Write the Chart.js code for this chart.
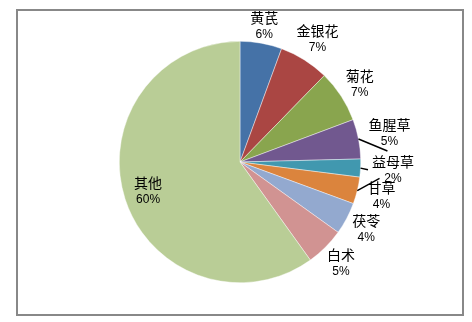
<!DOCTYPE html>
<html>
<head>
<meta charset="utf-8">
<script src="https://cdn.jsdelivr.net/npm/chart.js@4"></script>
<style>
  html, body { margin: 0; padding: 0; background: #fff; }
  canvas { display: block; }
</style>
</head>
<body>
<canvas id="pieChart" width="472" height="322"></canvas>
<script>
const categories = ['黄芪', '金银花', '菊花', '鱼腥草', '益母草', '甘草', '茯苓', '白术', '其他'];
const shares = [5.6, 6.7, 7.0, 5.3, 2.4, 3.6, 4.3, 5.2, 59.9];
const sliceColors = ['#4572A7', '#AA4643', '#89A54E', '#71588F', '#4198AF', '#DB843D', '#93A9CF', '#D19392', '#B9CD96'];

const total = shares.reduce((a, b) => a + b, 0);
const percentText = shares.map(v => Math.round(v / total * 100) + '%');

// frame around the whole chart, like the office chart border
const framePlugin = {
  id: 'frame',
  beforeDraw(chart) {
    const c = chart.ctx;
    c.save();
    c.fillStyle = '#fff';
    c.fillRect(0, 0, chart.width, chart.height);
    c.strokeStyle = '#888';
    c.lineWidth = 2;
    c.strokeRect(17, 10, 446, 305);
    c.restore();
  }
};

// name + percent labels outside the slices (big slice gets it inside)
const sliceLabels = {
  id: 'sliceLabels',
  afterDatasetsDraw(chart, args, opts) {
    const c = chart.ctx;
    const meta = chart.getDatasetMeta(0);
    const leaders = opts.leaders || {};
    c.save();
    c.textAlign = 'center';
    c.textBaseline = 'middle';
    meta.data.forEach((arc, i) => {
      const p = arc.getProps(['x', 'y', 'startAngle', 'endAngle', 'outerRadius'], true);
      const mid = (p.startAngle + p.endAngle) / 2;
      const ux = Math.cos(mid), uy = Math.sin(mid);
      const r = p.outerRadius;
      c.font = opts.nameFont;
      const wName = c.measureText(categories[i]).width;
      c.font = opts.pctFont;
      const wPct = c.measureText(percentText[i]).width;
      const w = Math.max(wName, wPct), h = 20;
      let cx, cy;
      if (shares[i] / total > 0.3) {
        cx = p.x + ux * r * 0.8;
        cy = p.y + uy * r * 0.8;
      } else {
        const ld = leaders[categories[i]];
        const extra = ld ? ld.push : 0;
        const d = r + opts.gap + Math.abs(ux) * w / 2 + Math.abs(uy) * h / 2 + extra;
        cx = p.x + ux * d;
        cy = p.y + uy * d;
        if (ld) {
          // leader line from the slice edge to one side of the label
          const sx = p.x + ux * r, sy = p.y + uy * r;
          let ex = cx - w / 2 - 4, ey = cy;
          if (ld.side === 'bottom') { ex = cx - 2; ey = cy + 18; }
          if (ld.side === 'top') { ex = cx - 2; ey = cy - 18; }
          c.strokeStyle = '#000';
          c.lineWidth = 1.4;
          c.beginPath();
          c.moveTo(sx, sy);
          c.lineTo(ex, ey);
          c.stroke();
        }
      }
      c.fillStyle = '#000';
      c.font = opts.nameFont;
      c.fillText(categories[i], cx, cy - 8.5);
      c.font = opts.pctFont;
      c.fillText(percentText[i], cx, cy + 8.5);
    });
    c.restore();
  }
};

new Chart(document.getElementById('pieChart').getContext('2d'), {
  type: 'pie',
  data: {
    labels: categories,
    datasets: [{
      data: shares,
      backgroundColor: sliceColors,
      borderColor: 'rgba(255,255,255,0.7)',
      borderWidth: 0.6
    }]
  },
  options: {
    responsive: false,
    animation: false,
    layout: { padding: { left: 119, right: 111, top: 41, bottom: 39 } },
    plugins: {
      legend: { display: false },
      tooltip: { enabled: false },
      sliceLabels: {
        gap: 5,
        nameFont: '14px "Noto Sans CJK SC"',
        pctFont: '12px "Liberation Sans"',
        leaders: {
          '鱼腥草': { push: 4, side: 'bottom' },
          '益母草': { push: 6, side: 'left' },
          '甘草': { push: 4, side: 'top' }
        }
      }
    }
  },
  plugins: [framePlugin, sliceLabels]
});
</script>
</body>
</html>
